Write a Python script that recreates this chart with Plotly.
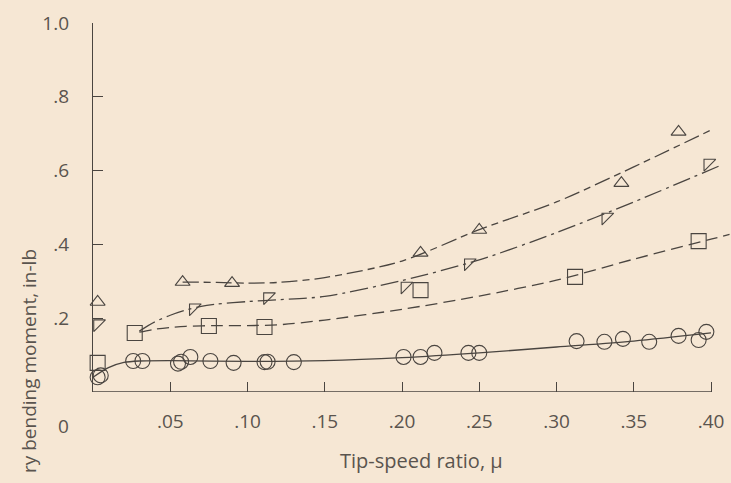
import plotly.graph_objects as go

# Measured points: tip-speed ratio (mu) vs bending moment (in-lb)
circ_mu = [0.003, 0.005, 0.026, 0.032, 0.055, 0.057, 0.063, 0.076, 0.091, 0.111, 0.113, 0.130,
           0.201, 0.212, 0.221, 0.243, 0.250, 0.313, 0.331, 0.343, 0.360, 0.379, 0.392, 0.397]
circ_m = [0.040, 0.045, 0.084, 0.084, 0.077, 0.082, 0.095, 0.084, 0.079, 0.081, 0.082, 0.081,
          0.095, 0.095, 0.106, 0.106, 0.106, 0.138, 0.136, 0.144, 0.136, 0.152, 0.141, 0.163]

sq_mu = [0.003, 0.027, 0.075, 0.111, 0.212, 0.312, 0.392]
sq_m = [0.079, 0.160, 0.179, 0.176, 0.276, 0.312, 0.409]

up_mu = [0.003, 0.058, 0.090, 0.212, 0.250, 0.342, 0.379]
up_m = [0.244, 0.298, 0.295, 0.377, 0.439, 0.566, 0.705]

nw_mu = [0.003, 0.065, 0.113, 0.202, 0.243, 0.332, 0.398]
nw_m = [0.185, 0.228, 0.258, 0.287, 0.350, 0.474, 0.620]

# Faired curves through each set
circ_fit_mu = [0.0, 0.01, 0.02, 0.03, 0.05, 0.10, 0.15, 0.20, 0.25, 0.30, 0.35, 0.40]
circ_fit_m = [0.040, 0.066, 0.080, 0.084, 0.085, 0.083, 0.085, 0.093, 0.106, 0.122, 0.138, 0.160]

sq_fit_mu = [0.030, 0.040, 0.050, 0.060, 0.080, 0.100, 0.120, 0.150, 0.200, 0.250, 0.300,
             0.350, 0.400, 0.412]
sq_fit_m = [0.162, 0.170, 0.175, 0.178, 0.180, 0.180, 0.182, 0.195, 0.224, 0.260, 0.303,
            0.360, 0.414, 0.427]

up_fit_mu = [0.058, 0.080, 0.100, 0.120, 0.150, 0.200, 0.250, 0.300, 0.350, 0.400]
up_fit_m = [0.298, 0.297, 0.295, 0.297, 0.310, 0.355, 0.440, 0.515, 0.610, 0.710]

nw_fit_mu = [0.030, 0.040, 0.050, 0.060, 0.070, 0.080, 0.100, 0.120, 0.150, 0.200, 0.250,
             0.300, 0.350, 0.405]
nw_fit_m = [0.165, 0.190, 0.208, 0.222, 0.232, 0.238, 0.245, 0.250, 0.259, 0.302, 0.358,
            0.432, 0.515, 0.612]

x_ticks = [0.05, 0.10, 0.15, 0.20, 0.25, 0.30, 0.35, 0.40]
x_tick_text = [".05", ".10", ".15", ".20", ".25", ".30", ".35", ".40"]
y_ticks = [0.2, 0.4, 0.6, 0.8, 1.0]
y_tick_text = [".2", ".4", ".6", ".8", "1.0"]

INK = "#4a4540"
TEXT = "#5a544e"
PAPER = "#f6e7d4"
FONT = "Open Sans"

W, H = 731, 483
L, R, T, B = 93, 1, 23, 91
PX_PER_MU = 1545.0
X_MAX = (W - L - R) / PX_PER_MU

fig = go.Figure()

def curve(x, y, dash):
    fig.add_trace(go.Scatter(x=x, y=y, mode="lines", line=dict(color=INK, width=1.3, dash=dash,
                             shape="spline", smoothing=0.8), hoverinfo="skip"))

def points(x, y, symbol, size):
    fig.add_trace(go.Scatter(x=x, y=y, mode="markers", cliponaxis=False,
                             marker=dict(symbol=symbol, size=size, color=INK,
                                         line=dict(color=INK, width=1.1))))

curve(circ_fit_mu, circ_fit_m, "solid")
curve(sq_fit_mu, sq_fit_m, "12px,6px")
curve(up_fit_mu, up_fit_m, "16px,5px,7px,5px")
curve(nw_fit_mu, nw_fit_m, "18px,5px,3px,5px")

points(circ_mu, circ_m, "circle-open", 15)
points(sq_mu, sq_m, "square-open", 15)
points(up_mu, up_m, "triangle-up-open", 13)
points(nw_mu, nw_m, "triangle-nw-open", 13)

# x-axis baseline stops at mu = 0.40
fig.add_shape(type="line", xref="x", yref="y", x0=0, x1=0.40, y0=0, y1=0,
              line=dict(color=INK, width=1.3))

fig.update_xaxes(range=[0, X_MAX], showline=False, showgrid=False, zeroline=False,
                 tickvals=x_ticks, ticktext=x_tick_text, ticks="inside", ticklen=10,
                 tickwidth=1.2, tickcolor=INK, ticklabelstandoff=16,
                 tickfont=dict(family=FONT, size=19, color=TEXT))
fig.update_yaxes(range=[0, 1.0], showline=True, linecolor=INK, linewidth=1.3, showgrid=False,
                 zeroline=False, tickvals=y_ticks, ticktext=y_tick_text, ticks="inside",
                 ticklen=10, tickwidth=1.2, tickcolor=INK, ticklabelstandoff=19,
                 tickfont=dict(family=FONT, size=19, color=TEXT))

PW, PH = W - L - R, H - T - B

def paper_x(p):
    return (p - L) / PW

def paper_y(p):
    return (H - B - p) / PH

def label(px, py, text, size, angle=0):
    fig.add_annotation(x=paper_x(px), y=paper_y(py), xref="paper", yref="paper", text=text,
                       textangle=angle, showarrow=False, xanchor="center", yanchor="middle",
                       font=dict(family=FONT, size=size, color=TEXT))

label(63, 426, "0", 19)
label(421, 460, "Tip-speed ratio, \u03bc", 20)
label(29, 361, "ry bending moment, in-lb", 19, angle=-90)

fig.update_layout(width=W, height=H, margin=dict(l=L, r=R, t=T, b=B), showlegend=False,
                  paper_bgcolor=PAPER, plot_bgcolor=PAPER)

fig.write_html("out.html")
